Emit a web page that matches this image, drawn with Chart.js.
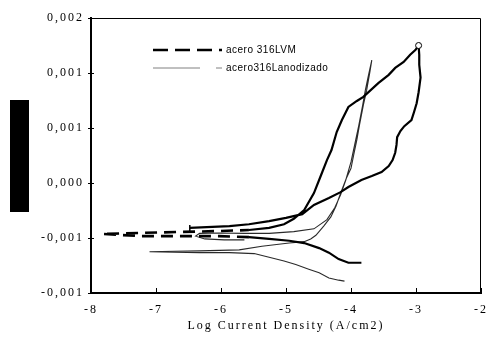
<!DOCTYPE html>
<html>
<head>
<meta charset="utf-8">
<title>Polarizacion ciclica</title>
<script src="https://cdn.jsdelivr.net/npm/chart.js@4.4.0/dist/chart.umd.min.js"></script>
<style>
    html, body { margin: 0; padding: 0; background: #fff; }
    #wrap { position: relative; width: 496px; height: 338px; }
    #yTitleBox { position: absolute; left: 10px; top: 100px; width: 19px; height: 112px; background: #000; }
</style>
</head>
<body>
<div id="wrap">
    <canvas id="chart" width="496" height="338"></canvas>
    <div id="yTitleBox"></div>
</div>
<script>
// axis ticks
const xTicks = [-8, -7, -6, -5, -4, -3, -2];
const xTickLabels = ['-8', '-7', '-6', '-5', '-4', '-3', '-2'];
const yTicks = [-0.0012, -0.0006, 0, 0.0006, 0.0012, 0.0018];
const yTickLabels = ['-0,001', '-0,001', '0,000', '0,001', '0,001', '0,002'];

const seriesNames = ['acero 316LVM', 'acero316Lanodizado'];

// acero 316LVM — log i, E (forward scan, apex, reverse scan)
const lvmLogI = [-3.84, -4.04, -4.19, -4.34, -4.49, -4.72, -4.95, -5.26, -5.57, -6.03,
    -6.64, -7.22, -7.83, -7.25, -6.64, -6.03, -5.57, -5.26, -5.03, -4.88,
    -4.72, -4.57, -4.46, -4.37, -4.30, -4.22, -4.14, -4.04, -3.91, -3.81,
    -3.58, -3.42, -3.32, -3.19, -3.09, -3.01, -2.96, -2.95, -2.95, -2.93,
    -2.96, -2.99, -3.03, -3.07, -3.18, -3.24, -3.29, -3.30, -3.32, -3.36,
    -3.42, -3.53, -3.68, -3.84, -4.04, -4.16, -4.34, -4.57, -4.75, -5.00,
    -5.26, -5.57, -5.87, -6.48];
const lvmE = [-0.00087, -0.00087, -0.00083, -0.00076, -0.00071, -0.000655, -0.00063, -0.00061, -0.00059, -0.00058,
    -0.00058, -0.00058, -0.000556, -0.000545, -0.000534, -0.000524, -0.000513, -0.00049, -0.00045, -0.00039,
    -0.000295, -0.00011, 0.000087, 0.00025, 0.00036, 0.000556, 0.000687, 0.00083, 0.000895, 0.00094,
    0.00109, 0.00118, 0.001255, 0.00132, 0.0014, 0.00145, 0.0015, 0.0014, 0.00129, 0.00115,
    0.00099, 0.00087, 0.000775, 0.000687, 0.00062, 0.000567, 0.0005, 0.000415, 0.00033, 0.00025,
    0.000185, 0.00012, 0.000076, 0.000033, -0.000044, -0.0001, -0.000164, -0.00024, -0.00034, -0.00038,
    -0.000415, -0.00045, -0.00047, -0.00049];

// acero 316L anodizado — log i, E
const anoLogI = [-4.10, -4.19, -4.34, -4.49, -4.65, -4.85, -5.03, -5.26, -5.49, -5.87,
    -6.33, -7.10, -6.33, -5.72, -5.37, -4.95, -4.72, -4.62, -4.54, -4.42,
    -4.31, -4.23, -4.16, -4.07, -4.00, -3.96, -3.91, -3.87, -3.81, -3.76,
    -3.71, -3.68, -3.73, -3.78, -3.82, -3.88, -3.94, -4.00, -4.08, -4.16,
    -4.25, -4.37, -4.57, -4.88, -5.26, -5.64, -6.03, -6.33, -6.39, -6.25,
    -5.95, -5.64];
const anoE = [-0.00107, -0.00106, -0.001036, -0.00098, -0.00094, -0.00089, -0.00085, -0.00081, -0.00077, -0.00076,
    -0.00076, -0.00075, -0.00074, -0.00073, -0.00069, -0.000655, -0.00064, -0.00061, -0.00057, -0.00047,
    -0.00037, -0.00025, -0.00011, 0.000055, 0.00016, 0.0003, 0.00047, 0.00063, 0.00085, 0.00101,
    0.00121, 0.00134, 0.00118, 0.00101, 0.00085, 0.00063, 0.00043, 0.00023, 0.000033, -0.00013,
    -0.00027, -0.0004, -0.0005, -0.00053, -0.00055, -0.00055, -0.000545, -0.00055, -0.00058, -0.00061,
    -0.00062, -0.00062];

// the near-Ecorr excursion of 316LVM drawn dashed
const lvmDashFrom = 8, lvmDashTo = 16;
const lvmApex = lvmE.indexOf(Math.max(...lvmE));
const lvmLast = lvmE.length - 1;

const toPoints = (xs, ys) => xs.map((x, i) => ({ x, y: ys[i] }));

const serif = '"Liberation Serif", "Times New Roman", serif';

// frame, inside ticks and the legend drawn inside the plot like the original
const innerLegend = {
    id: 'innerLegend',
    beforeDraw(chart) {
        chart.ctx.letterSpacing = '2px';
    },
    afterDraw(chart) {
        const { ctx, chartArea: a } = chart;
        ctx.save();
        ctx.letterSpacing = '0px';
        ctx.strokeStyle = '#000';
        ctx.lineWidth = 1;
        ctx.beginPath();
        ctx.moveTo(a.left, a.top + 0.5);
        ctx.lineTo(a.right - 0.5, a.top + 0.5);
        ctx.lineTo(a.right - 0.5, a.bottom);
        ctx.stroke();

        const xs = chart.scales.x, ys = chart.scales.y;
        xTicks.forEach(v => {
            const px = Math.round(xs.getPixelForValue(v)) + 0.5;
            ctx.beginPath();
            ctx.moveTo(px, a.bottom);
            ctx.lineTo(px, a.bottom - 5);
            ctx.stroke();
        });
        yTicks.forEach(v => {
            const py = Math.round(ys.getPixelForValue(v)) + 0.5;
            ctx.beginPath();
            ctx.moveTo(a.left - 3, py);
            ctx.lineTo(a.left + 3, py);
            ctx.stroke();
        });

        const x0 = a.left + 62, x1 = a.left + 131;
        const rows = [a.top + 32, a.top + 50];
        ctx.font = '10px "Liberation Sans", Arial, sans-serif';
        ctx.letterSpacing = '0.5px';
        ctx.textBaseline = 'middle';
        chart.data.datasets.forEach((ds, i) => {
            const y = rows[i];
            ctx.strokeStyle = i === 0 ? '#000' : '#808080';
            ctx.lineWidth = i === 0 ? 2.5 : 1;
            ctx.setLineDash(i === 0 ? [15, 7] : [47, 16]);
            ctx.beginPath();
            ctx.moveTo(x0, y);
            ctx.lineTo(x1, y);
            ctx.stroke();
            ctx.setLineDash([]);
            ctx.fillStyle = '#000';
            ctx.fillText(ds.label, x1 + 4, y + 0.5);
        });
        ctx.restore();
    }
};

new Chart(document.getElementById('chart'), {
    type: 'scatter',
    data: {
        datasets: [
            {
                label: seriesNames[0],
                data: toPoints(lvmLogI, lvmE),
                showLine: true,
                borderColor: '#000',
                borderWidth: 2.2,
                segment: {
                    borderDash: c => (c.p0DataIndex >= lvmDashFrom && c.p0DataIndex < lvmDashTo) ? [12, 7] : undefined,
                    borderWidth: c => (c.p0DataIndex >= lvmDashFrom && c.p0DataIndex < lvmDashTo) ? 2.6 : undefined,
                },
                pointRadius: c => (c.dataIndex === lvmApex || c.dataIndex === lvmLast) ? 3 : 0,
                pointStyle: c => c.dataIndex === lvmLast ? 'line' : 'circle',
                rotation: c => c.dataIndex === lvmLast ? 90 : 0,
                pointBackgroundColor: '#fff',
                pointBorderColor: '#000',
                pointBorderWidth: c => c.dataIndex === lvmLast ? 1.5 : 1,
            },
            {
                label: seriesNames[1],
                data: toPoints(anoLogI, anoE),
                showLine: true,
                borderColor: '#2a2a2a',
                borderWidth: 1.1,
                pointRadius: 0,
            },
        ],
    },
    options: {
        responsive: false,
        animation: false,
        layout: { padding: { top: 18, right: 13, left: 0, bottom: 0 } },
        plugins: { legend: { display: false }, tooltip: { enabled: false } },
        scales: {
            x: {
                type: 'linear',
                min: -8,
                max: -2,
                afterBuildTicks: s => { s.ticks = xTicks.map(v => ({ value: v })); },
                afterFit: s => { s.height = 45; },
                grid: { display: false, drawTicks: false },
                border: { display: true, color: '#000', width: 2 },
                ticks: {
                    autoSkip: false,
                    maxRotation: 0,
                    padding: 10,
                    color: '#000',
                    font: { family: serif, size: 12 },
                    callback: (v, i) => xTickLabels[i],
                },
                title: {
                    display: true,
                    text: 'Log Current Density (A/cm2)',
                    color: '#000',
                    font: { family: serif, size: 12 },
                    padding: { top: 0, bottom: 5 },
                },
            },
            y: {
                type: 'linear',
                min: -0.0012,
                max: 0.0018,
                afterBuildTicks: s => { s.ticks = yTicks.map(v => ({ value: v })); },
                afterFit: s => { s.width = 91; },
                grid: { display: false, drawTicks: false },
                border: { display: true, color: '#000', width: 2 },
                ticks: {
                    padding: 7,
                    color: '#000',
                    font: { family: serif, size: 12 },
                    callback: (v, i) => yTickLabels[i],
                },
            },
        },
    },
    plugins: [innerLegend],
});
</script>
</body>
</html>
